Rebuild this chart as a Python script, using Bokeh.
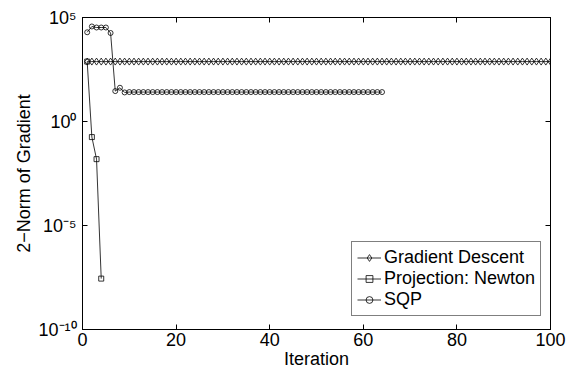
from bokeh.plotting import figure
from bokeh.models import FixedTicker, LinearAxis, LogAxis, Legend, LegendItem
from bokeh.embed import file_html
from bokeh.resources import INLINE

# ---- data ----
gd_iter = list(range(1, 101))
gd_norm = [760, 760, 760, 760, 760, 760, 760, 760, 760, 760,
           760, 760, 760, 760, 760, 760, 760, 760, 760, 760,
           760, 760, 760, 760, 760, 760, 760, 760, 760, 760,
           760, 760, 760, 760, 760, 760, 760, 760, 760, 760,
           760, 760, 760, 760, 760, 760, 760, 760, 760, 760,
           760, 760, 760, 760, 760, 760, 760, 760, 760, 760,
           760, 760, 760, 760, 760, 760, 760, 760, 760, 760,
           760, 760, 760, 760, 760, 760, 760, 760, 760, 760,
           760, 760, 760, 760, 760, 760, 760, 760, 760, 760,
           760, 760, 760, 760, 760, 760, 760, 760, 760, 760]

newton_iter = [1, 2, 3, 4]
newton_norm = [760, 0.178, 0.0155, 2.8e-8]

sqp_iter = list(range(1, 65))
sqp_norm = [19500, 37000, 33000, 33000, 33000, 18000, 29, 42, 25, 26,
            26, 26, 26, 26, 26, 26, 26, 26, 26, 26,
            26, 26, 26, 26, 26, 26, 26, 26, 26, 26,
            26, 26, 26, 26, 26, 26, 26, 26, 26, 26,
            26, 26, 26, 26, 26, 26, 26, 26, 26, 26,
            26, 26, 26, 26, 26, 26, 26, 26, 26, 26,
            26, 26, 26, 26]

x_ticks = [0, 20, 40, 60, 80, 100]
y_ticks = [1e-10, 1e-5, 1, 1e5]
y_tick_labels = {1e-10: "10\u207b\u00b9\u2070", 1e-5: "10\u207b\u2075", 1: "10\u2070", 1e5: "10\u2075"}

FONT = "Liberation Sans"
FS = "18px"

p = figure(width=573, height=371, y_axis_type="log",
           x_range=(0, 100), y_range=(1e-10, 1e5),
           output_backend="svg", toolbar_location=None,
           min_border_left=82, min_border_right=23, min_border_top=17, min_border_bottom=42)

p.xgrid.visible = False
p.ygrid.visible = False
p.outline_line_color = "black"
p.outline_line_width = 1
p.background_fill_color = "white"
p.border_fill_color = "white"

def style_axis(ax, labels=True):
    ax.axis_line_color = "black"
    ax.major_tick_in = 5
    ax.major_tick_out = 0
    ax.minor_tick_in = 0
    ax.minor_tick_out = 0
    ax.major_label_text_font = FONT
    ax.major_label_text_font_size = FS
    ax.major_label_text_color = "black"
    ax.axis_label_text_font = FONT
    ax.axis_label_text_font_size = FS
    ax.axis_label_text_font_style = "normal"
    ax.axis_label_text_color = "black"
    if not labels:
        ax.major_label_text_font_size = "1px"
        ax.major_label_text_color = None
        ax.major_label_standoff = 0

p.xaxis.ticker = FixedTicker(ticks=x_ticks)
p.yaxis.ticker = FixedTicker(ticks=y_ticks)
p.yaxis.major_label_overrides = y_tick_labels
style_axis(p.xaxis[0])
style_axis(p.yaxis[0])
p.xaxis.axis_label = "Iteration"
p.yaxis.axis_label = "2\u2212Norm of Gradient"
p.xaxis.major_label_standoff = 3
p.xaxis.axis_label_standoff = 0
p.yaxis.major_label_standoff = 6
p.yaxis.axis_label_standoff = 1

top = LinearAxis(ticker=FixedTicker(ticks=x_ticks))
style_axis(top, labels=False)
p.add_layout(top, "above")
right = LogAxis(ticker=FixedTicker(ticks=y_ticks))
style_axis(right, labels=False)
p.add_layout(right, "right")

lw = 0.8
r1 = p.line(gd_iter, gd_norm, line_color="black", line_width=lw)
s1 = p.scatter(gd_iter, gd_norm, marker="diamond", size=7, line_color="black", fill_color=None, line_width=lw)
r2 = p.line(newton_iter, newton_norm, line_color="black", line_width=lw)
s2 = p.scatter(newton_iter, newton_norm, marker="square", size=5, line_color="black", fill_color=None, line_width=lw)
r3 = p.line(sqp_iter, sqp_norm, line_color="black", line_width=lw)
s3 = p.scatter(sqp_iter, sqp_norm, marker="circle", size=5, line_color="black", fill_color=None, line_width=lw)

legend = Legend(items=[
    LegendItem(label="Gradient Descent", renderers=[r1, s1]),
    LegendItem(label="Projection: Newton", renderers=[r2, s2]),
    LegendItem(label="SQP", renderers=[r3, s3]),
], location=(269, 13))
legend.label_text_font = FONT
legend.label_text_font_size = FS
legend.label_text_color = "black"
legend.label_text_line_height = 0.9
legend.border_line_color = "black"
legend.border_line_width = 1.5
legend.background_fill_color = "white"
legend.background_fill_alpha = 1
legend.glyph_width = 24
legend.glyph_height = 17
legend.label_height = 17
legend.label_standoff = 3
legend.spacing = 0
legend.padding = 5
legend.margin = 0
p.add_layout(legend, "center")

open("out.html", "w").write(file_html(p, INLINE))
